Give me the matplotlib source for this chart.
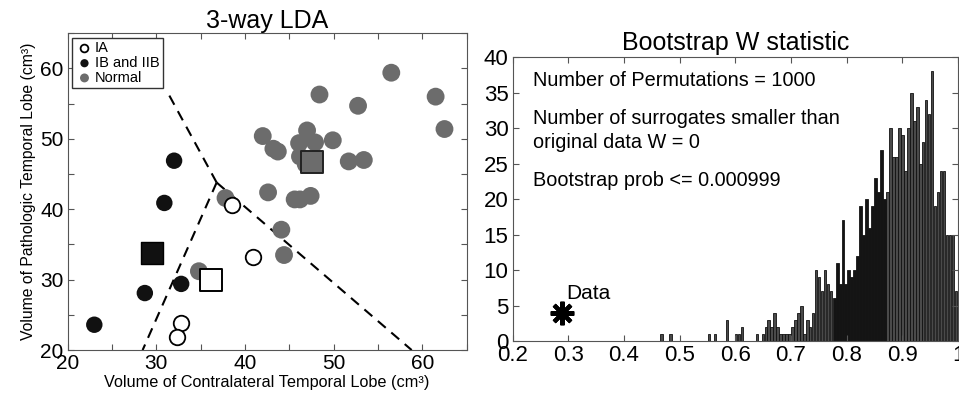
import matplotlib
matplotlib.use('Agg')
import matplotlib.pyplot as plt
from matplotlib.ticker import MultipleLocator, FormatStrFormatter
import numpy as np

plt.rcParams['font.family'] = ['Liberation Sans', 'DejaVu Sans']

# --- left panel: 3-way LDA scatter ---
ia_x = [38.5, 40.9, 32.8, 32.3]
ia_y = [40.6, 33.2, 23.9, 21.9]
ib_x = [32.0, 30.9, 28.7, 32.8, 23.0]
ib_y = [46.9, 40.9, 28.1, 29.4, 23.6]
normal_x = [56.5, 48.4, 52.75, 61.5, 62.5, 42.0, 43.2, 43.7, 46.1, 47.0, 47.9, 49.9,
            46.2, 46.85, 51.7, 53.4, 42.6, 45.6, 46.2, 47.4, 37.8, 44.1, 44.4, 34.8]
normal_y = [59.4, 56.3, 54.7, 56.0, 51.4, 50.4, 48.6, 48.2, 49.4, 51.2, 49.5, 49.8,
            47.5, 46.4, 46.8, 47.0, 42.4, 41.4, 41.4, 41.9, 41.6, 37.1, 33.5, 31.2]
# class means (squares)
ia_mean = (36.2, 30.0)
ib_mean = (29.5, 33.8)
normal_mean = (47.6, 46.7)
# decision boundaries meeting at a triple point
junction = (36.8, 43.8)
boundary_ends = [(31.4, 56.3), (58.8, 20.0), (28.45, 20.0)]

# --- right panel: bootstrap histogram ---
w_min, w_max = 0.465, 0.999
w_counts = [1, 0, 0, 1, 0, 0, 0, 0, 0, 0,
            0, 0, 0, 0, 0, 0, 1, 0, 1, 0,
            0, 0, 3, 0, 0, 1, 1, 2, 0, 0,
            0, 0, 1, 0, 1, 2, 3, 2, 4, 2,
            1, 1, 1, 1, 2, 3, 4, 5, 1, 3,
            2, 4, 10, 9, 7, 10, 8, 7, 6, 11,
            8, 17, 8, 10, 9, 10, 12, 19, 15, 20,
            16, 19, 23, 21, 27, 20, 21, 30, 26, 26,
            30, 29, 24, 30, 35, 31, 33, 25, 28, 34,
            32, 38, 19, 21, 24, 24, 15, 15, 15, 7]
data_w, data_y = 0.288, 3.9
info_lines = ['Number of Permutations = 1000',
              'Number of surrogates smaller than\noriginal data W = 0',
              'Bootstrap prob <= 0.000999']
info_y = [36.7, 29.7, 22.6]

gray = '#6c6c6c'

fig = plt.figure(figsize=(9.59, 4.01), dpi=100)
ax1 = fig.add_axes([0.0706, 0.127, 0.416, 0.790])
ax2 = fig.add_axes([0.5345, 0.1496, 0.4645, 0.7075])

# boundaries
for end in boundary_ends:
    ax1.plot([junction[0], end[0]], [junction[1], end[1]], color='black',
             linestyle=(0, (5, 3.5)), linewidth=1.5, zorder=1)

ax1.scatter(normal_x, normal_y, s=165, color=gray, edgecolors='none', zorder=2, label='Normal')
ax1.scatter(ib_x, ib_y, s=140, color='#111111', edgecolors='none', zorder=3, label='IB and IIB')
ax1.scatter(ia_x, ia_y, s=125, facecolors='white', edgecolors='black', linewidths=1.3,
            zorder=3, label='IA')
ax1.scatter(*ia_mean, s=250, marker='s', facecolors='white', edgecolors='black',
            linewidths=1.4, zorder=4)
ax1.scatter(*ib_mean, s=250, marker='s', color='#111111', edgecolors='black', zorder=4)
ax1.scatter(*normal_mean, s=250, marker='s', color=gray, edgecolors='#222222',
            linewidths=1.4, zorder=4)

ax1.set_xlim(20, 65)
ax1.set_ylim(20, 65)
ax1.xaxis.set_major_locator(MultipleLocator(10))
ax1.xaxis.set_minor_locator(MultipleLocator(5))
ax1.yaxis.set_major_locator(MultipleLocator(10))
ax1.yaxis.set_minor_locator(MultipleLocator(5))
ax1.tick_params(which='both', direction='in', top=True, right=True, length=4,
                width=0.8, color='#555555')
ax1.tick_params(labelsize=15, pad=3)
ax1.set_title('3-way LDA', fontsize=18, pad=3)
ax1.set_xlabel('Volume of Contralateral Temporal Lobe (cm³)', fontsize=11.7, labelpad=1)
ax1.set_ylabel('Volume of Pathologic Temporal Lobe (cm³)', fontsize=11.3, labelpad=3)
for sp in ax1.spines.values():
    sp.set_color('#555555')

handles, labels = ax1.get_legend_handles_labels()
order = [2, 1, 0]
leg = ax1.legend([handles[i] for i in order], [labels[i] for i in order], loc='upper left',
                 fontsize=10.5, markerscale=0.5, handletextpad=0.1, borderpad=0.25,
                 labelspacing=0.05, handlelength=1.2, fancybox=False, framealpha=1,
                 borderaxespad=0.3)
leg.get_frame().set_edgecolor('#333333')
leg.get_frame().set_linewidth(1.0)

# histogram
edges = np.linspace(w_min, w_max, len(w_counts) + 1)
bw = edges[1] - edges[0]
centers = (edges[:-1] + edges[1:]) / 2
dark = (centers > 0.775) & (centers < 0.872)
ax2.bar(centers[~dark], np.array(w_counts)[~dark], width=bw * 0.8, color='#4a4a4a',
        edgecolor='#111111', linewidth=0.6)
ax2.bar(centers[dark], np.array(w_counts)[dark], width=bw, color='#141414',
        edgecolor='#141414', linewidth=0.6)

ax2.plot(data_w, data_y, marker=(8, 2, 0), markersize=17, mew=3, color='black')
ax2.text(data_w + 0.008, data_y + 2.8, 'Data', fontsize=15, va='center')
for txt, yy in zip(info_lines, info_y):
    ax2.text(0.237, yy, txt, fontsize=14.3, va='center', linespacing=1.3)

ax2.set_xlim(0.2, 1.0)
ax2.set_ylim(0, 40)
ax2.xaxis.set_major_locator(MultipleLocator(0.1))
ax2.xaxis.set_major_formatter(FormatStrFormatter('%g'))
ax2.yaxis.set_major_locator(MultipleLocator(5))
ax2.tick_params(direction='in', top=True, right=True, length=4, width=0.8,
                color='#555555', labelsize=16, pad=3)
ax2.set_title('Bootstrap W statistic', fontsize=18, pad=5)
for sp in ax2.spines.values():
    sp.set_color('#555555')

fig.savefig('out.png', dpi=100)
